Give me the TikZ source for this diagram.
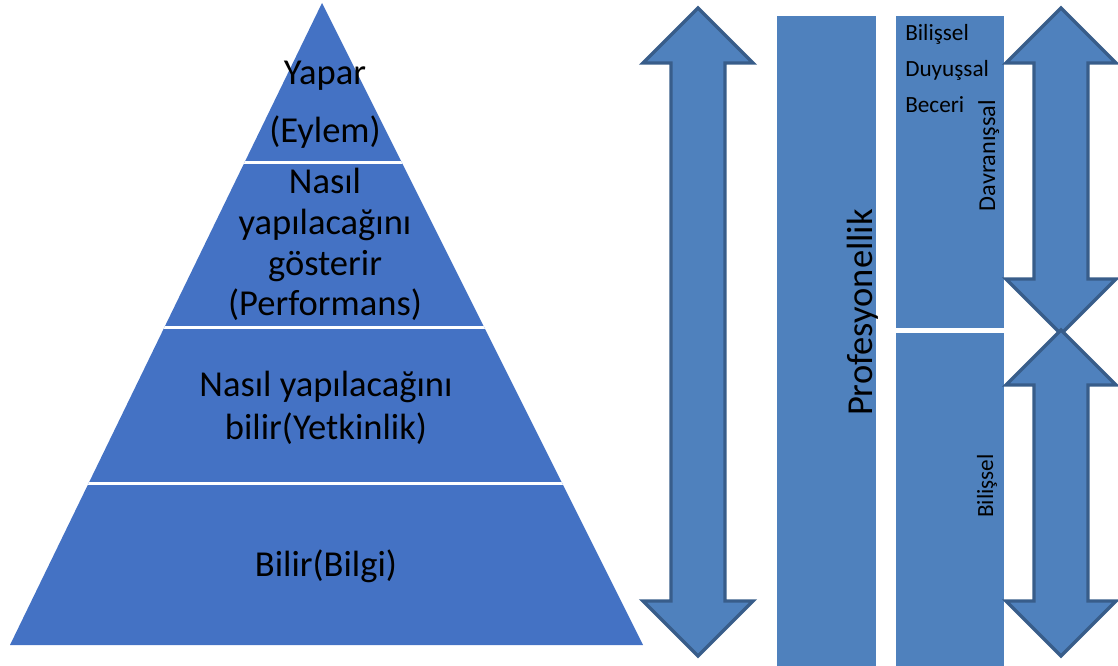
\documentclass[tikz,border=0pt]{standalone}
\usepackage{fontspec}
\setmainfont{Carlito}
\definecolor{pyr}{HTML}{4472C4}
\definecolor{boxc}{HTML}{4F81BD}
\definecolor{edgec}{HTML}{385D8A}
\newcommand{\dblarrow}[3]{%
  \draw[dblarrowst] (#1,#2) -- (#1+55,#2+55) -- (#1+27,#2+55) -- (#1+27,#3-55) -- (#1+55,#3-55) -- (#1,#3) -- (#1-55,#3-55) -- (#1-27,#3-55) -- (#1-27,#2+55) -- (#1-55,#2+55) -- cycle;}
\begin{document}
\begin{tikzpicture}[x=0.75pt,y=-0.75pt,
  bigtxt/.style={font=\fontsize{27.4}{30}\selectfont, anchor=base, inner sep=0},
  smalltxt/.style={font=\fontsize{17.4}{20}\selectfont, inner sep=0},
  dblarrowst/.style={fill=boxc, draw=edgec, line width=2.6pt, line join=miter},
  panel/.style={fill=boxc}]
\useasboundingbox (0,0) rectangle (1118,666);
% pyramid
\fill[pyr] (322,3) -- (643,645) -- (10,645) -- cycle;
\begin{scope}
  \clip (322,3) -- (643,645) -- (10,645) -- cycle;
  \draw[white, line width=2.25pt] (0,163) -- (700,163);
  \draw[white, line width=2.25pt] (0,328) -- (700,328);
  \draw[white, line width=2.25pt] (0,484) -- (700,484);
\end{scope}
\node[bigtxt] (t1) at (325,85) {Yapar};
\node[bigtxt] (t2) at (325,143) {(Eylem)};
\node[bigtxt] (t3) at (325,194) {Nasıl};
\node[bigtxt] (t4) at (325,235) {yapılacağını};
\node[bigtxt] (t5) at (325,276) {gösterir};
\node[bigtxt] (t6) at (325,316) {(Performans)};
\node[bigtxt] (t7) at (326,397) {Nasıl yapılacağını};
\node[bigtxt] (t8) at (326,440) {bilir(Yetkinlik)};
\node[bigtxt] (t9) at (326,576) {Bilir(Bilgi)};
% left double arrow
\dblarrow{698}{8}{656}
% panels
\fill[panel] (777,16) rectangle (876,666);
\fill[panel] (896,16) rectangle (1004,328);
\fill[panel] (896,333) rectangle (1004,666);
\node[bigtxt, rotate=90] (prof) at (872,312.5) {Profesyonellik};
\node[smalltxt, anchor=base west] (b1) at (905,41) {Bilişsel};
\node[smalltxt, anchor=base west] (b2) at (905,77) {Duyuşsal};
\node[smalltxt, anchor=base west] (b3) at (905,113) {Beceri};
\node[smalltxt, anchor=base, rotate=90, font=\fontsize{18.2}{20}\selectfont] (dv) at (995,155.5) {Davranışsal};
\node[smalltxt, anchor=base, rotate=90] (bl) at (993,486) {Bilişsel};
% right double arrows
\dblarrow{1061}{8}{334}
\dblarrow{1061}{330}{656}
\end{tikzpicture}
\end{document}
